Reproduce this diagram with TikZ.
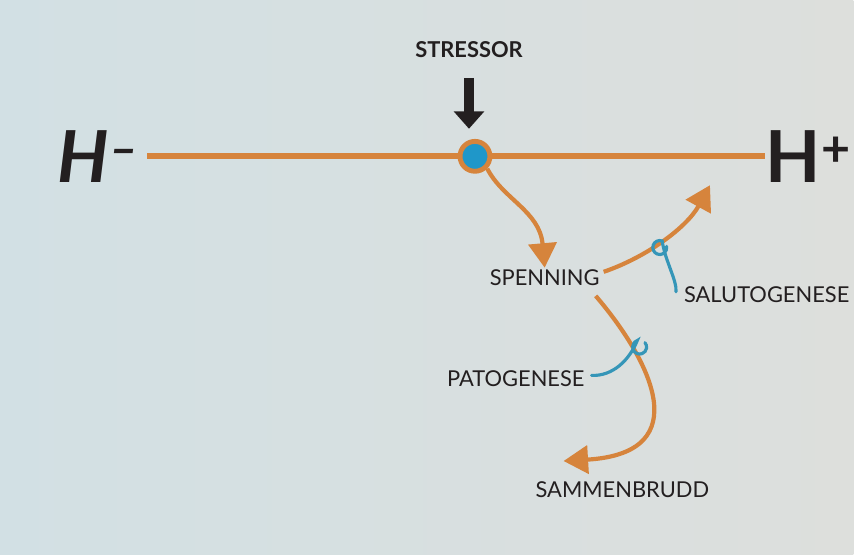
\documentclass[tikz,border=0pt]{standalone}
\usepackage{fontspec}
\setmainfont{Lato}
\usepackage{tikz}
\usetikzlibrary{arrows.meta}
\definecolor{linje}{HTML}{D6843C}
\definecolor{prikk}{HTML}{1F97C9}
\definecolor{krøll}{HTML}{3596B8}
\definecolor{tekst}{HTML}{231F20}
\definecolor{bakv}{HTML}{D2E0E4}
\definecolor{bakh}{HTML}{DDDFDC}
\tikzset{
  merke/.style={font=\fontsize{12.5}{12.5}\selectfont, text=tekst, inner sep=1pt},
  pil/.style={draw=linje, line width=2.4pt, -{Triangle[length=14pt,width=16pt]}},
  krok/.style={draw=krøll, line width=1.8pt, line cap=round}
}

\begin{document}
\begin{tikzpicture}[x=0.02cm, y=-0.02cm]
            % Background
            \shade[left color=bakv, right color=bakh] (0,0) rectangle (857,557);
            % Nodes
            \node[font=\bfseries\fontsize{12.5}{12.5}\selectfont, text=tekst] (stressor) at (471,50) {STRESSOR};
            \node[font=\bfseries\itshape\fontsize{41}{41}\selectfont, text=tekst] (hminus) at (99,157) {H\textsuperscript{–}};
            \node[font=\bfseries\fontsize{41}{41}\selectfont, text=tekst] (hplus) at (812,157) {H\textsuperscript{+}};
            \node[circle, draw=linje, line width=2.8pt, fill=prikk, minimum size=0.6cm] (punkt) at (477,157) {};
            \node[merke] (spenning) at (547,279) {SPENNING};
            \node[merke] (salutogenese) at (770,296) {SALUTOGENESE};
            \node[merke] (patogenese) at (518,380) {PATOGENESE};
            \node[merke] (sammenbrudd) at (625,492) {SAMMENBRUDD};
            \coordinate (venstre) at (148,157);
            \coordinate (hoyre) at (768,157);
            \coordinate (opp) at (713,186);
            \coordinate (ned) at (566,463);
            \coordinate (saluto) at (665,242);
            \coordinate (pato) at (640,342);
            % Connections
            \draw[linje, line width=3.4pt] (venstre) -- (punkt.west);
            \draw[linje, line width=3.4pt] (punkt.east) -- (hoyre);
            \draw[line width=5.5pt, tekst, -{Triangle[length=10pt,width=17pt]}] (stressor.south) ++(0,14) -- ++(0,51);
            \draw[pil] (punkt.south east) .. controls (505,200) and (542,212) .. (spenning.north);
            \draw[pil] (spenning.east) ++(2,-6) .. controls (650,258) and (690,228) .. (opp);
            \draw[pil] (spenning.south east) ++(-6,8) .. controls (652,360) and (702,455) .. (ned);
            \draw[krok] (salutogenese.west) ++(-6,-3) .. controls (680,282) and (668,262) .. (saluto)
                arc[start angle=-70, end angle=-370, radius=7];
            \draw[krok] (patogenese.east) ++(5,-3) .. controls (615,378) and (632,362) .. (pato)
                arc[start angle=-110, end angle=-400, radius=7];
        \end{tikzpicture}
\end{document}
